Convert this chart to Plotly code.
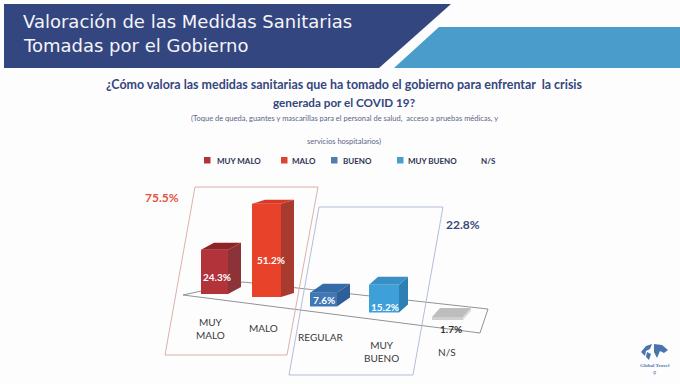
import plotly.graph_objects as go

# ---- data ----
categories = ["MUY<br>MALO", "MALO", "REGULAR", "MUY<br>BUENO", "N/S"]
values = [24.3, 51.2, 7.6, 15.2, 1.7]
value_labels = ["24.3%", "51.2%", "7.6%", "15.2%", "1.7%"]
group_labels = ["75.5%", "22.8%"]
legend_names = ["MUY MALO", "MALO", "BUENO", "MUY BUENO", "N/S"]
title_lines = ["Valoración de las Medidas Sanitarias", "Tomadas por el Gobierno"]
question_lines = ["¿Cómo valora las medidas sanitarias que ha tomado el gobierno para enfrentar  la crisis",
                  "generada por el COVID 19?"]
note_lines = ["(Toque de queda, guantes y mascarillas para el personal de salud,  acceso a pruebas médicas, y",
              "servicios hospitalarios)"]

# ---- layout and style ----
W, H = 680, 384
PX_PER_PCT = 1.82
Y0 = 320.0
def yv(py):            # pixel row -> value-axis units
    return (Y0 - py) / PX_PER_PCT

front_left = [201, 252, 310, 369, 432]
front_right = [228, 281, 337, 399, 463]
floor_px = [294, 297, 306.5, 312.5, 320]
depth_x = [13, 13, 13, 9, 8]
depth_y = [7, 4, 9, 8, 9]
front_col = ["#b3333b", "#e8432a", "#3f78b5", "#3f9fd8", "#cfcfcf"]
side_col = ["#8b3338", "#a93a30", "#2f5f98", "#2f80b2", "#dcdcdc"]
top_col = ["#8f2428", "#d63a28", "#356ba6", "#3a90c6", "#bdbdbd"]
label_col = ["white", "white", "white", "white", "#333333"]
label_px = [(217, 277), (271, 260), (324, 299.5), (385, 307), (451, 329)]
cat_px = [(210, 328), (263, 328), (320, 337), (381, 351), (447, 352)]
group_px = [(162, 197), (463, 224)]
group_col = ["#e8503a", "#3b4a78"]
legend_sq = [204, 281, 331, 397, None]
legend_txt = [239, 303.5, 357, 432.5, 488]
legend_col = ["#b3333b", "#e0432f", "#4f7fb0", "#45a0d0", None]
question_sizes = [12.45, 11.7]

fig = go.Figure()

# front faces: real bars on a percent axis
fig.add_trace(go.Bar(
    x=[(a + b) / 2 for a, b in zip(front_left, front_right)],
    y=values,
    base=[yv(f) for f in floor_px],
    width=[b - a for a, b in zip(front_left, front_right)],
    marker=dict(color=front_col, line=dict(width=0)),
    hoverinfo="skip", showlegend=False,
))

# side and top faces derived from the same values
for v, l, r, f, dx, dy, sc, tc in zip(values, front_left, front_right, floor_px,
                                      depth_x, depth_y, side_col, top_col):
    b = yv(f)
    t = b + v
    d = dy / PX_PER_PCT
    fig.add_trace(go.Scatter(x=[r, r + dx, r + dx, r, r], y=[b, b + d, t + d, t, b],
                             fill="toself", fillcolor=sc, mode="none",
                             hoverinfo="skip", showlegend=False))
    fig.add_trace(go.Scatter(x=[l, l + dx, r + dx, r, l], y=[t, t + d, t + d, t, t],
                             fill="toself", fillcolor=tc, mode="none",
                             hoverinfo="skip", showlegend=False))

def poly(points, fill="rgba(0,0,0,0)", line=None, width=1, layer="below"):
    path = "M " + " L ".join(f"{x/W:.5f},{1-y/H:.5f}" for x, y in points) + " Z"
    return dict(type="path", xref="paper", yref="paper", path=path, fillcolor=fill,
                line=dict(color=line or "rgba(0,0,0,0)", width=width if line else 0), layer=layer)

shapes = [
    poly([(4, 4), (451, 4), (379, 68), (4, 68)], fill="#34467f"),
    poly([(439, 27), (680, 27), (680, 68), (394, 68)], fill="#4a9ccb"),
    poly([(183, 295), (480, 333), (488, 309), (243, 282)], line="#8f9396", width=1),
    poly([(195, 187), (318, 187), (287, 355), (165, 355)], line="#dcb0ad", width=1),
    poly([(319, 207), (443, 207), (413, 375), (289, 375)], line="#b3bdda", width=1),
]
for x, c in zip(legend_sq, legend_col):
    if x is not None:
        shapes.append(poly([(x, 157), (x + 6.5, 157), (x + 6.5, 163.5), (x, 163.5)], fill=c))

# small globe of the logo
globe = [
    [(641, 352), (646, 346), (652, 344), (650, 349), (646, 351), (645, 356)],
    [(654, 344), (662, 345), (668, 350), (664, 353), (660, 351), (657, 358), (654, 352)],
    [(647, 352), (651, 354), (649, 360), (646, 357)],
]
for g in globe:
    shapes.append(poly(g, fill="#4a74ad"))

def txt(s, x, y, size, color, family="Lato", bold=False):
    return dict(text=f"<b>{s}</b>" if bold else s, x=x / W, y=1 - y / H, xref="paper", yref="paper",
                xanchor="center", yanchor="middle", showarrow=False,
                font=dict(size=size, color=color, family=family), align="center")

ann = []
for line, y in zip(title_lines, [22, 45]):
    a = txt(line, 21, y, 18, "#f4f5f8", "DejaVu Sans", False)
    a["xanchor"] = "left"
    ann.append(a)
for line, y, s in zip(question_lines, [85, 102], question_sizes):
    ann.append(txt(line, 344, y, s, "#34467f", "Lato", True))
for line, y in zip(note_lines, [118, 141]):
    ann.append(txt(line, 344, y, 7.5, "#5b6488", "Lato"))
for name, x in zip(legend_names, legend_txt):
    ann.append(txt(name, x, 160.5, 8, "#2c3350", "Lato", True))
for s, (x, y), c in zip(value_labels, label_px, label_col):
    ann.append(txt(s, x, y, 10, c, "Lato", True))
for s, (x, y) in zip(categories, cat_px):
    ann.append(txt(s, x, y, 10, "#3a3a3a", "Lato"))
for s, (x, y), c in zip(group_labels, group_px, group_col):
    ann.append(txt(s, x, y, 12, c, "Lato", True))
ann.append(txt("Global Travel", 655, 365, 5, "#4a74ad", "Liberation Serif", True))
ann.append(txt("9", 654, 372.5, 5.5, "#4a74ad", "Lato"))

fig.update_layout(
    width=W, height=H, margin=dict(l=0, r=0, t=0, b=0),
    paper_bgcolor="#fdfdfd", plot_bgcolor="rgba(0,0,0,0)",
    xaxis=dict(range=[0, W], visible=False, fixedrange=True),
    yaxis=dict(range=[yv(H), yv(0)], visible=False, fixedrange=True),
    shapes=shapes, annotations=ann, showlegend=False,
)
fig.write_html("out.html", config={"displayModeBar": False},
               post_script="document.body.style.margin='0';document.body.style.overflow='hidden';")
